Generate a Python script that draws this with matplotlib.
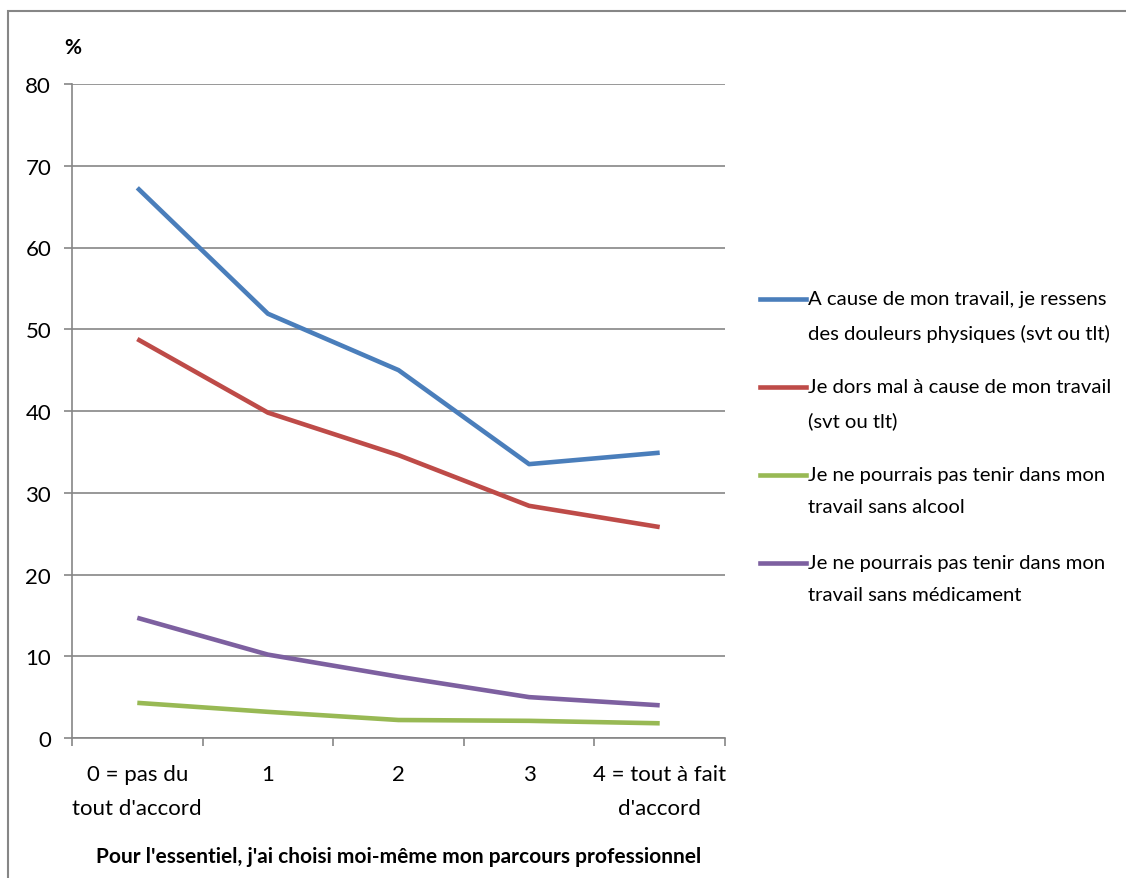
import numpy as np
import matplotlib.pyplot as plt
from matplotlib.lines import Line2D
from matplotlib.patches import Rectangle

plt.rcParams['font.family'] = ['Lato', 'DejaVu Sans']

categories = ["0 = pas du\ntout d'accord", "1", "2", "3", "4 = tout à fait\nd'accord"]
douleurs = [67.3, 51.9, 45.0, 33.5, 34.9]
dort_mal = [48.8, 39.8, 34.6, 28.4, 25.8]
alcool = [4.3, 3.2, 2.2, 2.1, 1.8]
medicament = [14.7, 10.2, 7.5, 5.0, 4.0]

series = [
    (douleurs, "A cause de mon travail, je ressens\ndes douleurs physiques (svt ou tlt)", "#4A7EBB"),
    (dort_mal, "Je dors mal à cause de mon travail\n(svt ou tlt)", "#BE4B48"),
    (alcool, "Je ne pourrais pas tenir dans mon\ntravail sans alcool", "#98B954"),
    (medicament, "Je ne pourrais pas tenir dans mon\ntravail sans médicament", "#7D60A0"),
]

grey = "#868686"

fig = plt.figure(figsize=(11.26, 8.79), dpi=100)
ax = fig.add_axes([72 / 1126, 1 - 739 / 879, 653 / 1126, 654 / 879])

x = np.arange(len(categories))
for vals, lab, col in series:
    ax.plot(x, vals, color=col, lw=3.3, solid_capstyle='butt')

ax.set_xlim(-0.5, len(categories) - 0.5)
ax.set_ylim(0, 80)
ax.set_yticks(np.arange(0, 81, 10))
ax.yaxis.grid(True, color=grey, lw=1.2)
ax.set_axisbelow(True)
for s in ['top', 'right']:
    ax.spines[s].set_visible(False)
for s in ['left', 'bottom']:
    ax.spines[s].set_color(grey)
    ax.spines[s].set_linewidth(1.2)

ax.set_xticks(x)
ax.set_xticklabels(categories, fontsize=16, linespacing=1.85)
ax.set_xticks(np.arange(-0.5, len(categories)), minor=True)
ax.tick_params(axis='x', which='major', length=0, pad=19)
ax.tick_params(axis='x', which='minor', length=6, color=grey, width=1.2)
ax.tick_params(axis='y', length=6, color=grey, width=1.2, labelsize=16, pad=9)

ax.set_xlabel("Pour l'essentiel, j'ai choisi moi-même mon parcours professionnel",
              fontsize=15, fontweight='bold', va='center')
ax.xaxis.set_label_coords(0.5, -118 / 654)
fig.text(73 / 1126, 1 - 48 / 879, "%", fontsize=15, fontweight='bold', va='center', ha='center')

# legend, drawn Excel-style with the line next to the first text line
y0 = 300
for i, (vals, lab, col) in enumerate(series):
    yy = 1 - (y0 + i * 88) / 879
    fig.add_artist(Line2D([760 / 1126, 806 / 1126], [yy, yy], color=col, lw=3.3,
                          transform=fig.transFigure))
    fig.text(808 / 1126, yy + 9 / 879, lab, fontsize=14.6, va='top', ha='left',
             linespacing=2.1, transform=fig.transFigure)

# outer frame
fig.add_artist(Rectangle((8 / 1126, -0.1), 1.2, 1.1 - 12 / 879, fill=False,
                         edgecolor=grey, lw=1.5, transform=fig.transFigure))

fig.savefig("out.png", dpi=100)
